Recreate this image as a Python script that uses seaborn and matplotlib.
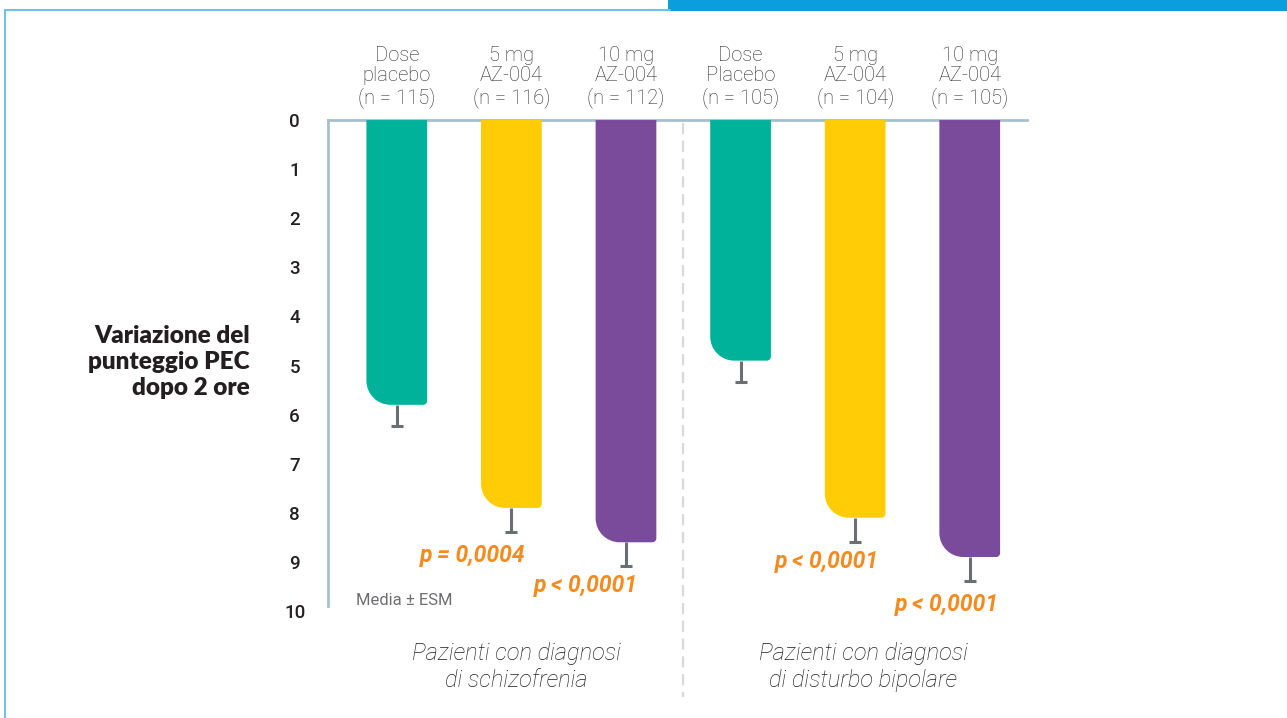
import numpy as np
import pandas as pd
import matplotlib
matplotlib.use("Agg")
import matplotlib.pyplot as plt
from matplotlib.path import Path
from matplotlib.patches import PathPatch, Rectangle
from matplotlib.lines import Line2D
import seaborn as sns

# ---------------- data ----------------
groups = ["Dose\nplacebo\n(n = 115)", "5 mg\nAZ-004\n(n = 116)", "10 mg\nAZ-004\n(n = 112)",
          "Dose\nPlacebo\n(n = 105)", "5 mg\nAZ-004\n(n = 104)", "10 mg\nAZ-004\n(n = 105)"]
mean_change = [5.8, 7.9, 8.6, 4.9, 8.1, 8.9]
sem = [0.43, 0.49, 0.49, 0.43, 0.50, 0.49]
p_labels = [None, "p = 0,0004", "p < 0,0001", None, "p < 0,0001", "p < 0,0001"]
y_ticks = [0, 1, 2, 3, 4, 5, 6, 7, 8, 9, 10]
panel_labels = ["Pazienti con diagnosi\ndi schizofrenia", "Pazienti con diagnosi\ndi disturbo bipolare"]
y_title = "Variazione del\npunteggio PEC\ndopo 2 ore"
note = "Media \u00b1 ESM"

# ---------------- style ----------------
colors = ["#00B299", "#FFCC05", "#7B4B9B", "#00B299", "#FFCC05", "#7B4B9B"]
sns.set_style("white")
plt.rcParams["font.family"] = ["Roboto", "DejaVu Sans"]

fig = plt.figure(figsize=(12.87, 7.18), dpi=100)
ax = fig.add_axes([0.2549, 0.149, 0.5431, 0.6838])

df = pd.DataFrame({"group": groups, "value": mean_change})
sns.barplot(data=df, x="group", y="value", hue="group", palette=colors,
            width=0.53, errorbar=None, legend=False, ax=ax, saturation=1)

ax.set_xlim(-0.6, 5.5)
ax.set_ylim(10, 0)

# rounded bottom corners for bars
px_per_x = 114.6
px_per_y = 49.1
k = 0.5523
for patch in list(ax.patches):
    x0 = patch.get_x()
    w = patch.get_width()
    v = patch.get_y() + patch.get_height()
    fc = patch.get_facecolor()
    x1 = x0 + w
    rx, ry = 24 / px_per_x, 24 / px_per_y
    rx2, ry2 = 4 / px_per_x, 4 / px_per_y
    verts = [(x0, 0), (x0, v - ry),
             (x0, v - ry * (1 - k)), (x0 + rx * (1 - k), v), (x0 + rx, v),
             (x1 - rx2, v),
             (x1 - rx2 * (1 - k), v), (x1, v - ry2 * (1 - k)), (x1, v - ry2),
             (x1, 0), (x0, 0)]
    codes = [Path.MOVETO, Path.LINETO,
             Path.CURVE4, Path.CURVE4, Path.CURVE4,
             Path.LINETO,
             Path.CURVE4, Path.CURVE4, Path.CURVE4,
             Path.LINETO, Path.CLOSEPOLY]
    patch.remove()
    ax.add_patch(PathPatch(Path(verts, codes), facecolor=fc, edgecolor="none", zorder=2))

# error bars (downward only)
xs = np.arange(len(groups))
eb = ax.errorbar(xs, mean_change, yerr=[np.zeros(len(sem)), sem], fmt="none",
                 ecolor="#6D6E71", elinewidth=2.2, capsize=4.5, capthick=2.2, zorder=3)
eb[1][0].set_visible(False)

# axes styling
for s in ["right", "bottom"]:
    ax.spines[s].set_visible(False)
for s in ["left", "top"]:
    ax.spines[s].set_color("#A7C0CE")
    ax.spines[s].set_linewidth(2)
    ax.spines[s].set_zorder(1)
ax.spines["left"].set_bounds(0, 9.9)

ax.set_yticks(y_ticks)
ax.set_yticklabels([str(t) for t in y_ticks], fontsize=13.5, color="#231F20",
                   fontweight="medium", ha="center")
ax.tick_params(axis="y", length=0, pad=24)

ax.xaxis.tick_top()
ax.set_xticks(xs)
ax.set_xticklabels(groups, fontsize=14.5, color="#2B2B2B", fontweight="light",
                   linespacing=1.1)
ax.tick_params(axis="x", length=0, pad=9)
ax.set_xlabel("")
ax.set_ylabel("")

# p-value labels
p_offsets = [0, -0.34, -0.35, 0, -0.25, -0.2]
p_y = [0, 8.86, 9.49, 0, 9.0, 9.86]
for i, lab in enumerate(p_labels):
    if lab:
        ax.text(i + p_offsets[i], p_y[i], lab, color="#F58A1F", fontsize=16.5,
                fontweight="bold", fontstyle="italic", ha="center", va="center",
                clip_on=False, zorder=4)

# note
ax.text(-0.36, 9.78, note, color="#6D6E71", fontsize=12, ha="left", va="center",
        clip_on=False)

# dashed divider
ax.plot([2.5, 2.5], [0.05, 11.75], color="#D9D9D9", lw=1.6, ls=(0, (5, 3)),
        clip_on=False, zorder=0)

# panel labels
for cx, lab in zip([1.04, 4.07], panel_labels):
    ax.text(cx, 11.14, lab, fontsize=17, fontstyle="italic", fontweight="light",
            color="#1F1F1F", ha="center", va="center", linespacing=1.25,
            clip_on=False)

# y title
fig.text(250 / 1287, 1 - 362 / 718, y_title, fontsize=17.5, fontweight="heavy",
         color="#231F20", ha="right", va="center", linespacing=1.2,
         family=["Lato", "DejaVu Sans"])

# frame decoration
fig.add_artist(Line2D([5 / 1287, 5 / 1287], [0, 1 - 10 / 718], color="#6EC1EA", lw=1.5))
fig.add_artist(Line2D([5 / 1287, 670 / 1287], [1 - 10 / 718, 1 - 10 / 718], color="#6EC1EA", lw=1.5))
fig.add_artist(Rectangle((668 / 1287, 1 - 11 / 718), 1 - 668 / 1287, 11 / 718,
                         transform=fig.transFigure, color="#0A9EDD", lw=0))

fig.savefig("out.png", dpi=100)
